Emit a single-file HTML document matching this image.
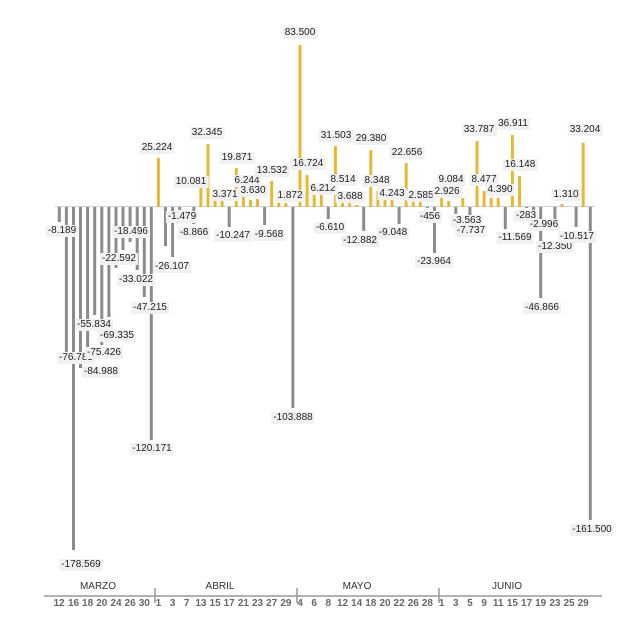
<!DOCTYPE html>
<html><head><meta charset="utf-8"><style>
html,body{margin:0;padding:0;background:#fff;}
#c{position:relative;width:640px;height:639px;overflow:hidden;font-family:"Liberation Sans",sans-serif;}
.l{position:absolute;transform:translate(-50%,-50%);background:#f1f1f1;color:#222;font-size:10px;line-height:12px;padding:0 2px;white-space:nowrap;}
.m{position:absolute;transform:translateX(-50%);font-size:10px;color:#333;}
.t .m{color:#666;font-weight:bold;}
svg{position:absolute;left:0;top:0;}
</style></head><body><div id="c">
<svg width="640" height="639">
<line x1="55" y1="206.5" x2="595" y2="206.5" stroke="#d0d0d0" stroke-width="1"/>
<g fill="#8c8c8c">
<rect x="57.8" y="207" width="3" height="15"/>
<rect x="64.9" y="207" width="3" height="156"/>
<rect x="72" y="207" width="3" height="343"/>
<rect x="79" y="207" width="3" height="161"/>
<rect x="86.1" y="207" width="3" height="141"/>
<rect x="93.2" y="207" width="3" height="108"/>
<rect x="100.3" y="207" width="3" height="138"/>
<rect x="107.4" y="207" width="3" height="110"/>
<rect x="114.5" y="207" width="3" height="61"/>
<rect x="121.5" y="207" width="3" height="43"/>
<rect x="128.6" y="207" width="3" height="35"/>
<rect x="135.7" y="207" width="3" height="63"/>
<rect x="142.8" y="207" width="3" height="90"/>
<rect x="149.8" y="207" width="3" height="233"/>
<rect x="164" y="207" width="3" height="39"/>
<rect x="171.1" y="207" width="3" height="50"/>
<rect x="178.2" y="207" width="3" height="3"/>
<rect x="192.3" y="207" width="3" height="17"/>
<rect x="227.7" y="207" width="3" height="20"/>
<rect x="263.1" y="207" width="3" height="18"/>
<rect x="291.4" y="207" width="3" height="201"/>
<rect x="326.8" y="207" width="3" height="12"/>
<rect x="362.2" y="207" width="3" height="24"/>
<rect x="397.6" y="207" width="3" height="17"/>
<rect x="425.9" y="207" width="3" height="1"/>
<rect x="433" y="207" width="3" height="46"/>
<rect x="454.3" y="207" width="3" height="7"/>
<rect x="468.4" y="207" width="3" height="14"/>
<rect x="503.8" y="207" width="3" height="22"/>
<rect x="525.1" y="207" width="3" height="1"/>
<rect x="532.1" y="207" width="3" height="6"/>
<rect x="539.2" y="207" width="3" height="91"/>
<rect x="553.4" y="207" width="3" height="24"/>
<rect x="574.6" y="207" width="3" height="20"/>
<rect x="588.8" y="207" width="3" height="313"/>
</g>
<g fill="#e8b830">
<rect x="156.9" y="158" width="3" height="49"/>
<rect x="199.4" y="188" width="3" height="19"/>
<rect x="206.5" y="144" width="3" height="63"/>
<rect x="213.6" y="201" width="3" height="6"/>
<rect x="220.6" y="201" width="3" height="6"/>
<rect x="234.8" y="168" width="3" height="39"/>
<rect x="241.9" y="195" width="3" height="12"/>
<rect x="249" y="200" width="3" height="7"/>
<rect x="256" y="199" width="3" height="8"/>
<rect x="270.2" y="181" width="3" height="26"/>
<rect x="277.3" y="203" width="3" height="4"/>
<rect x="284.4" y="203" width="3" height="4"/>
<rect x="298.5" y="45" width="3" height="162"/>
<rect x="305.6" y="175" width="3" height="32"/>
<rect x="312.7" y="195" width="3" height="12"/>
<rect x="319.8" y="195" width="3" height="12"/>
<rect x="333.9" y="146" width="3" height="61"/>
<rect x="341" y="202" width="3" height="5"/>
<rect x="348.1" y="202" width="3" height="5"/>
<rect x="355.2" y="205" width="3" height="2"/>
<rect x="369.3" y="150" width="3" height="57"/>
<rect x="376.4" y="191" width="3" height="16"/>
<rect x="383.5" y="199" width="3" height="8"/>
<rect x="390.5" y="199" width="3" height="8"/>
<rect x="404.7" y="163" width="3" height="44"/>
<rect x="411.8" y="202" width="3" height="5"/>
<rect x="418.9" y="202" width="3" height="5"/>
<rect x="440.1" y="189" width="3" height="18"/>
<rect x="447.2" y="201" width="3" height="6"/>
<rect x="461.3" y="198" width="3" height="9"/>
<rect x="475.5" y="141" width="3" height="66"/>
<rect x="482.6" y="191" width="3" height="16"/>
<rect x="489.7" y="198" width="3" height="9"/>
<rect x="496.7" y="198" width="3" height="9"/>
<rect x="510.9" y="135" width="3" height="72"/>
<rect x="518" y="176" width="3" height="31"/>
<rect x="560.5" y="204" width="3" height="3"/>
<rect x="581.7" y="143" width="3" height="64"/>
</g>
<line x1="44" y1="596" x2="602" y2="596" stroke="#999" stroke-width="1.5"/>
<g stroke="#999" stroke-width="1.5">
<line x1="155" y1="588" x2="155" y2="603"/>
<line x1="297" y1="588" x2="297" y2="603"/>
<line x1="439" y1="588" x2="439" y2="603"/>
</g>
</svg>
<div class="m" style="left:98px;top:581px">MARZO</div>
<div class="m" style="left:220px;top:581px">ABRIL</div>
<div class="m" style="left:357px;top:581px">MAYO</div>
<div class="m" style="left:507px;top:581px">JUNIO</div>
<div class="t">
<div class="m" style="left:59px;top:598px">12</div><div class="m" style="left:73.5px;top:598px">16</div><div class="m" style="left:87.6px;top:598px">18</div><div class="m" style="left:101.8px;top:598px">20</div><div class="m" style="left:116px;top:598px">24</div><div class="m" style="left:130.1px;top:598px">26</div><div class="m" style="left:144.3px;top:598px">30</div>
<div class="m" style="left:158.4px;top:598px">1</div><div class="m" style="left:172.6px;top:598px">3</div><div class="m" style="left:186.7px;top:598px">7</div><div class="m" style="left:200.9px;top:598px">13</div><div class="m" style="left:215.1px;top:598px">15</div><div class="m" style="left:229.2px;top:598px">17</div><div class="m" style="left:243.4px;top:598px">21</div><div class="m" style="left:257.5px;top:598px">23</div><div class="m" style="left:271.7px;top:598px">27</div><div class="m" style="left:285.9px;top:598px">29</div>
<div class="m" style="left:300px;top:598px">4</div><div class="m" style="left:314.2px;top:598px">6</div><div class="m" style="left:328.3px;top:598px">8</div><div class="m" style="left:342.5px;top:598px">12</div><div class="m" style="left:356.7px;top:598px">14</div><div class="m" style="left:370.8px;top:598px">18</div><div class="m" style="left:385px;top:598px">20</div><div class="m" style="left:399.1px;top:598px">22</div><div class="m" style="left:413.3px;top:598px">26</div><div class="m" style="left:427.4px;top:598px">28</div>
<div class="m" style="left:441.6px;top:598px">1</div><div class="m" style="left:455.8px;top:598px">3</div><div class="m" style="left:469.9px;top:598px">5</div><div class="m" style="left:484.1px;top:598px">9</div><div class="m" style="left:498.2px;top:598px">11</div><div class="m" style="left:512.4px;top:598px">15</div><div class="m" style="left:526.6px;top:598px">17</div><div class="m" style="left:540.7px;top:598px">19</div><div class="m" style="left:554.9px;top:598px">23</div><div class="m" style="left:569px;top:598px">25</div><div class="m" style="left:583.2px;top:598px">29</div>
</div>
<div class="l" style="left:62px;top:231px">-8.189</div>
<div class="l" style="left:76px;top:358px">-76.785</div>
<div class="l" style="left:81px;top:565px">-178.569</div>
<div class="l" style="left:101px;top:372px">-84.988</div>
<div class="l" style="left:94px;top:325px">-55.834</div>
<div class="l" style="left:104px;top:353px">-75.426</div>
<div class="l" style="left:117px;top:336px">-69.335</div>
<div class="l" style="left:119px;top:259px">-22.592</div>
<div class="l" style="left:131px;top:232px">-18.496</div>
<div class="l" style="left:136px;top:280px">-33.022</div>
<div class="l" style="left:150px;top:308px">-47.215</div>
<div class="l" style="left:152px;top:449px">-120.171</div>
<div class="l" style="left:157px;top:148px">25.224</div>
<div class="l" style="left:182px;top:217px">-1.479</div>
<div class="l" style="left:172px;top:267px">-26.107</div>
<div class="l" style="left:194px;top:233px">-8.866</div>
<div class="l" style="left:207px;top:133px">32.345</div>
<div class="l" style="left:191px;top:182px">10.081</div>
<div class="l" style="left:237px;top:158px">19.871</div>
<div class="l" style="left:247px;top:181px">6.244</div>
<div class="l" style="left:225px;top:195px">3.371</div>
<div class="l" style="left:253px;top:191px">3.630</div>
<div class="l" style="left:233px;top:236px">-10.247</div>
<div class="l" style="left:269px;top:235px">-9.568</div>
<div class="l" style="left:272px;top:171px">13.532</div>
<div class="l" style="left:290px;top:196px">1.872</div>
<div class="l" style="left:300px;top:33px">83.500</div>
<div class="l" style="left:293px;top:418px">-103.888</div>
<div class="l" style="left:308px;top:164px">16.724</div>
<div class="l" style="left:323px;top:189px">6.212</div>
<div class="l" style="left:336px;top:136px">31.503</div>
<div class="l" style="left:343px;top:180px">8.514</div>
<div class="l" style="left:350px;top:197px">3.688</div>
<div class="l" style="left:330px;top:228px">-6.610</div>
<div class="l" style="left:371px;top:139px">29.380</div>
<div class="l" style="left:377px;top:181px">8.348</div>
<div class="l" style="left:392px;top:194px">4.243</div>
<div class="l" style="left:360px;top:241px">-12.882</div>
<div class="l" style="left:393px;top:233px">-9.048</div>
<div class="l" style="left:407px;top:153px">22.656</div>
<div class="l" style="left:421px;top:196px">2.585</div>
<div class="l" style="left:430px;top:217px">-456</div>
<div class="l" style="left:434px;top:262px">-23.964</div>
<div class="l" style="left:451px;top:180px">9.084</div>
<div class="l" style="left:447px;top:192px">2.926</div>
<div class="l" style="left:467px;top:221px">-3.563</div>
<div class="l" style="left:471px;top:231px">-7.737</div>
<div class="l" style="left:479px;top:130px">33.787</div>
<div class="l" style="left:484px;top:180px">8.477</div>
<div class="l" style="left:500px;top:190px">4.390</div>
<div class="l" style="left:513px;top:124px">36.911</div>
<div class="l" style="left:520px;top:165px">16.148</div>
<div class="l" style="left:515px;top:238px">-11.569</div>
<div class="l" style="left:526px;top:216px">-283</div>
<div class="l" style="left:544px;top:225px">-2.996</div>
<div class="l" style="left:555px;top:247px">-12.350</div>
<div class="l" style="left:542px;top:308px">-46.866</div>
<div class="l" style="left:566px;top:195px">1.310</div>
<div class="l" style="left:585px;top:130px">33.204</div>
<div class="l" style="left:577px;top:237px">-10.517</div>
<div class="l" style="left:592px;top:530px">-161.500</div>
</div></body></html>
